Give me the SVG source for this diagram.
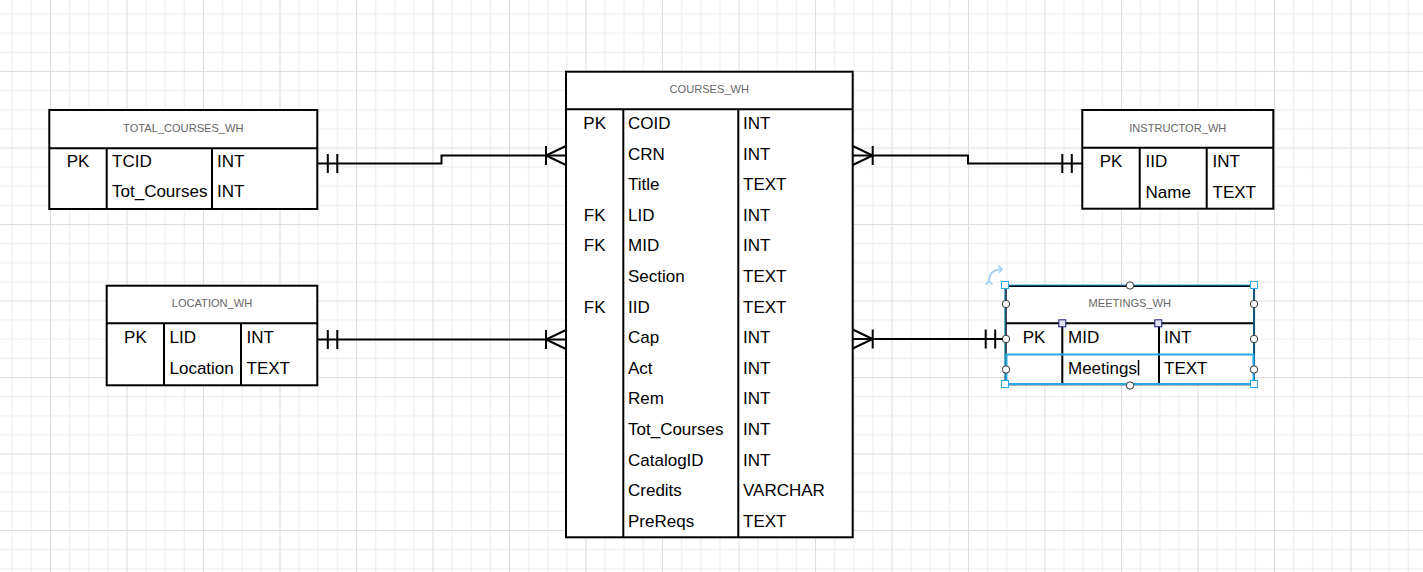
<svg xmlns="http://www.w3.org/2000/svg" width="1423" height="572" viewBox="0 0 1423 572">
<style>
.tb{fill:#fff;stroke:#000;stroke-width:2}
.ln{stroke:#000;stroke-width:2;fill:none}
.h{font-family:"Liberation Sans",Arial,sans-serif;font-size:11.1px;fill:#666;text-anchor:middle}
.t{font-family:"Liberation Sans",Arial,sans-serif;font-size:17px;fill:#000}
.c{text-anchor:middle}
.edge{stroke:#000;stroke-width:2;fill:none;marker-start:url(#one);marker-end:url(#many)}
.hc{fill:#fff;stroke:#333;stroke-width:1}
.hs{fill:#fff;stroke:#29a8e8;stroke-width:1}
</style>
<defs>
<pattern id="grid" x="50" y="71" width="76.5" height="76.5" patternUnits="userSpaceOnUse">
<rect x="0" y="0" width="76.5" height="76.5" fill="#fff"/>
<g fill="#ececec">
<rect x="19.125" y="0" width="1" height="76.5"/>
<rect x="38.25" y="0" width="1" height="76.5"/>
<rect x="57.375" y="0" width="1" height="76.5"/>
<rect x="0" y="19.125" width="76.5" height="1"/>
<rect x="0" y="38.25" width="76.5" height="1"/>
<rect x="0" y="57.375" width="76.5" height="1"/>
</g>
<rect x="0" y="0" width="1" height="76.5" fill="#dcdcdc"/>
<rect x="0" y="0" width="76.5" height="1" fill="#dcdcdc"/>
</pattern>
<marker id="one" markerUnits="userSpaceOnUse" orient="auto" refX="0" refY="0" markerWidth="30" markerHeight="30" overflow="visible">
<path d="M10.5,-9.5V9.5M20,-9.5V9.5" stroke="#000" stroke-width="2" fill="none"/>
</marker>
<marker id="many" markerUnits="userSpaceOnUse" orient="auto" refX="0" refY="0" markerWidth="30" markerHeight="30" overflow="visible">
<path d="M-20,-9.5V9.5M0,-9.5L-20,0L0,9.5" stroke="#000" stroke-width="2" fill="none"/>
</marker>
<marker id="ah" markerUnits="userSpaceOnUse" orient="auto" refX="0" refY="0" markerWidth="10" markerHeight="10" overflow="visible">
<path d="M-3.5,-3.5L0,0L-3.5,3.5" stroke="#a9d2f5" stroke-width="1.8" fill="none"/>
</marker>
</defs>
<rect x="0" y="0" width="1423" height="572" fill="url(#grid)"/>

<g id="connectors">
<path class="edge" d="M317.3,163.5H441.5V155.5H566"/>
<path class="edge" d="M1082.3,163.5H968V155.5H852.7"/>
<path class="edge" d="M317.3,339.5H566"/>
<path class="edge" d="M1005.7,339H852.7"/>
</g>

<g id="total_courses_wh">
<rect class="tb" x="49.3" y="110" width="268" height="99"/>
<path class="ln" d="M49.3,148.3H317.3M106.7,148.3V209M212,148.3V209"/>
<text class="h" x="183.3" y="132">TOTAL_COURSES_WH</text>
<text class="t c" x="78" y="166.7">PK</text>
<text class="t" x="112" y="166.7">TCID</text>
<text class="t" x="217" y="166.7">INT</text>
<text class="t" x="112" y="197.3">Tot_Courses</text>
<text class="t" x="217" y="197.3">INT</text>
</g>

<g id="location_wh">
<rect class="tb" x="106.7" y="285.7" width="210.6" height="99.6"/>
<path class="ln" d="M106.7,323.3H317.3M164,323.3V385.3M241,323.3V385.3"/>
<text class="h" x="212" y="307.3">LOCATION_WH</text>
<text class="t c" x="135.4" y="343.3">PK</text>
<text class="t" x="169.5" y="343.3">LID</text>
<text class="t" x="246.5" y="343.3">INT</text>
<text class="t" x="169.5" y="374">Location</text>
<text class="t" x="246.5" y="374">TEXT</text>
</g>

<g id="courses_wh">
<rect class="tb" x="566" y="71.7" width="286.7" height="465.6"/>
<path class="ln" d="M566,109.3H852.7M623.3,109.3V537.3M738.3,109.3V537.3"/>
<text class="h" x="709.3" y="93">COURSES_WH</text>
<g class="t">
<text class="c" x="594.7" y="129">PK</text>
<text class="c" x="594.7" y="220.8">FK</text>
<text class="c" x="594.7" y="251.4">FK</text>
<text class="c" x="594.7" y="312.6">FK</text>
<text x="628" y="129">COID</text>
<text x="628" y="159.6">CRN</text>
<text x="628" y="190.2">Title</text>
<text x="628" y="220.8">LID</text>
<text x="628" y="251.4">MID</text>
<text x="628" y="282">Section</text>
<text x="628" y="312.6">IID</text>
<text x="628" y="343.2">Cap</text>
<text x="628" y="373.8">Act</text>
<text x="628" y="404.4">Rem</text>
<text x="628" y="435">Tot_Courses</text>
<text x="628" y="465.6">CatalogID</text>
<text x="628" y="496.2">Credits</text>
<text x="628" y="526.8">PreReqs</text>
<text x="743" y="129">INT</text>
<text x="743" y="159.6">INT</text>
<text x="743" y="190.2">TEXT</text>
<text x="743" y="220.8">INT</text>
<text x="743" y="251.4">INT</text>
<text x="743" y="282">TEXT</text>
<text x="743" y="312.6">TEXT</text>
<text x="743" y="343.2">INT</text>
<text x="743" y="373.8">INT</text>
<text x="743" y="404.4">INT</text>
<text x="743" y="435">INT</text>
<text x="743" y="465.6">INT</text>
<text x="743" y="496.2">VARCHAR</text>
<text x="743" y="526.8">TEXT</text>
</g>
</g>

<g id="instructor_wh">
<rect class="tb" x="1082.3" y="110" width="191" height="98.7"/>
<path class="ln" d="M1082.3,147.7H1273.3M1139.7,147.7V208.7M1206.7,147.7V208.7"/>
<text class="h" x="1177.8" y="131.5">INSTRUCTOR_WH</text>
<text class="t c" x="1111" y="167">PK</text>
<text class="t" x="1145.5" y="167">IID</text>
<text class="t" x="1212.5" y="167">INT</text>
<text class="t" x="1145.5" y="197.6">Name</text>
<text class="t" x="1212.5" y="197.6">TEXT</text>
</g>

<g id="meetings_wh">
<rect class="tb" x="1005.7" y="286" width="248.3" height="98.3"/>
<path class="ln" d="M1005.7,323.3H1254M1062.3,323.3V384.3M1159,323.3V384.3"/>
<text class="h" x="1129.8" y="306.7">MEETINGS_WH</text>
<text class="t c" x="1034" y="343.3">PK</text>
<text class="t" x="1068" y="343.3">MID</text>
<text class="t" x="1164" y="343.3">INT</text>
<text class="t" x="1068" y="374">Meetings</text>
<text class="t" x="1164" y="374">TEXT</text>
<path d="M1138.5,360V375.5" stroke="#000" stroke-width="1.5"/>
</g>

<g id="selection">
<rect x="1006.5" y="354.5" width="247" height="29.5" fill="none" stroke="#29a8e8" stroke-width="2"/>
<rect x="1005" y="285" width="249" height="99.5" fill="none" stroke="#29a8e8" stroke-width="1"/>
<rect class="hs" x="1001.5" y="281.5" width="7" height="7"/>
<rect class="hs" x="1250.5" y="281.5" width="7" height="7"/>
<rect class="hs" x="1001.5" y="380.5" width="7" height="7"/>
<rect class="hs" x="1250.5" y="380.5" width="7" height="7"/>
<circle class="hc" cx="1130" cy="285.5" r="3.7"/>
<circle class="hc" cx="1130" cy="385.5" r="3.7"/>
<circle class="hc" cx="1006" cy="304" r="3.7"/>
<circle class="hc" cx="1006" cy="339" r="3.7"/>
<circle class="hc" cx="1006" cy="369.5" r="3.7"/>
<circle class="hc" cx="1254" cy="304" r="3.7"/>
<circle class="hc" cx="1254" cy="339" r="3.7"/>
<circle class="hc" cx="1254" cy="369.5" r="3.7"/>
<rect x="1058.8" y="319.8" width="7" height="7" fill="#e2e2f2" stroke="#1a1a7a" stroke-width="1"/>
<rect x="1154.8" y="319.8" width="7" height="7" fill="#e2e2f2" stroke="#1a1a7a" stroke-width="1"/>
<path d="M989,281Q989,270 1002,269" fill="none" stroke="#a9d2f5" stroke-width="2" marker-start="url(#ah)" marker-end="url(#ah)"/>
</g>
</svg>
